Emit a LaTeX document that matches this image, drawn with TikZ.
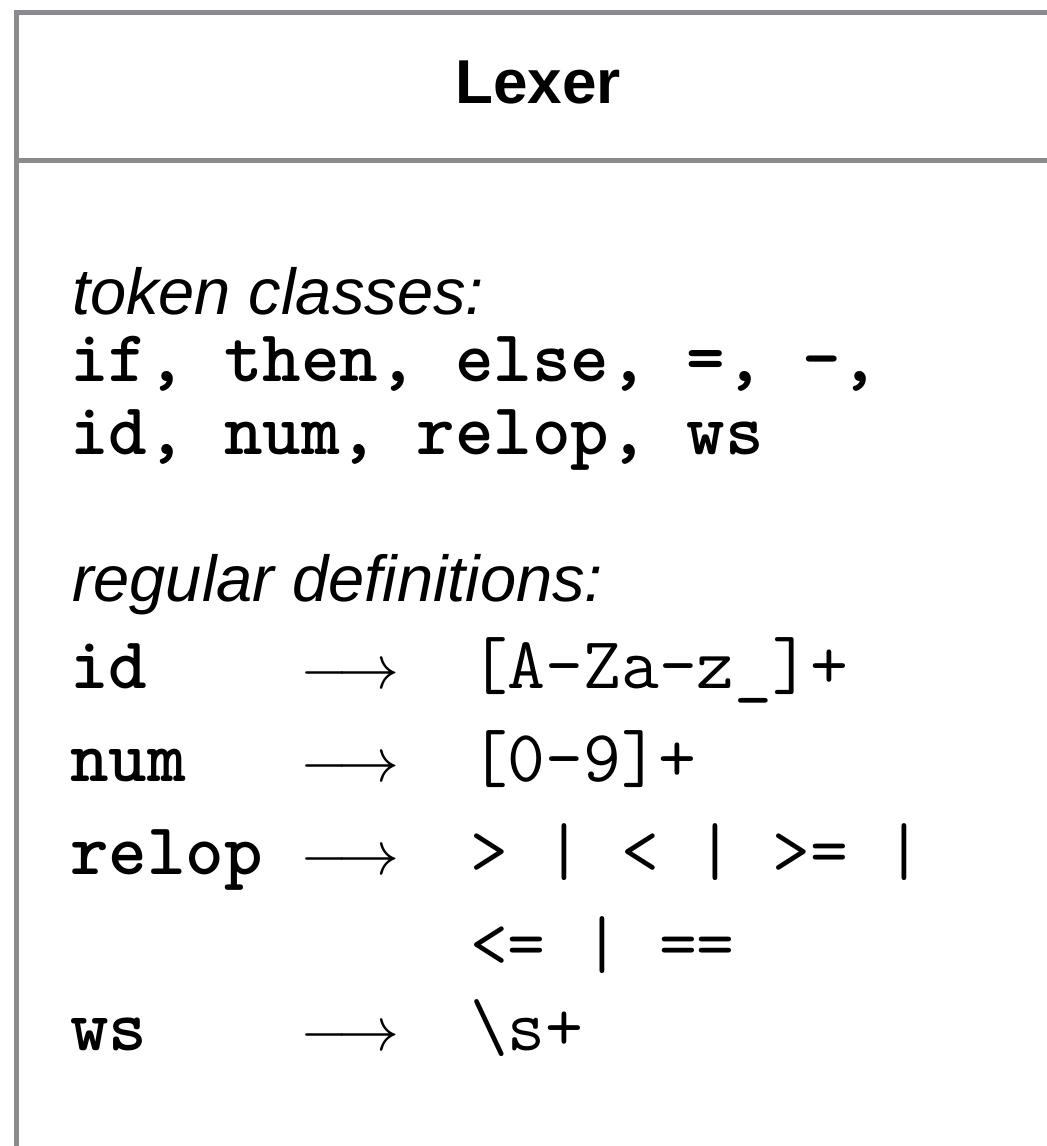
\RequirePackage{fix-cm}
\documentclass[tikz,border=0pt]{standalone}
\usepackage{fontspec}
\setmainfont{Liberation Sans}
\usetikzlibrary{positioning}
\definecolor{framegray}{HTML}{898B8F}
\tikzset{every node/.style={inner sep=0, outer sep=0, anchor=base west},
  headtext/.style={font=\fontsize{31}{31}\selectfont\bfseries, anchor=base},
  caption/.style={font=\fontsize{32.5}{32.5}\selectfont\itshape},
  kw/.style={font=\fontsize{36.7}{36.7}\selectfont\ttfamily\bfseries},
  regex/.style={font=\fontsize{36.7}{36.7}\selectfont\ttfamily},
  arrowsym/.style={font=\fontsize{31}{31}\selectfont},
  frame/.style={framegray, line width=2.5pt}}

\begin{document}
\begin{tikzpicture}[x=0.5pt, y=-0.5pt]
    \useasboundingbox (0, 0) rectangle (1047, 1146);
    \clip (0, 0) rectangle (1047, 1146);
    \draw[frame] (1070, 12) -- (16.5, 12) -- (16.5, 1170);
    \draw[frame] (16.5, 160) -- (1070, 160);
    \node[headtext] (lexer) at (538, 103) {Lexer};
    \node[caption] (tokhead) at (72, 314) {token classes:};
    \node[kw] (toks1) at (70, 381) {if, then, else, =, -,};
    \node[kw] (toks2) at (70, 454) {id, num, relop, ws};
    \node[caption] (defhead) at (72, 601) {regular definitions:};
    \node[kw] (idname) at (70, 688) {id};
    \node[arrowsym] (idarrow) at (300, 688) {$\longrightarrow$};
    \node[regex] (idrx) at (470, 688) {[A-Za-z\_]+};
    \node[kw] (numname) at (70, 781) {num};
    \node[arrowsym] (numarrow) at (300, 781) {$\longrightarrow$};
    \node[regex] (numrx) at (470, 781) {[0-9]+};
    \node[kw] (relopname) at (70, 874) {relop};
    \node[arrowsym] (reloparrow) at (300, 874) {$\longrightarrow$};
    \node[regex] (reloprx) at (470, 874) {> | < | >= |};
    \node[regex] (reloprxb) at (470, 967) {<= | ==};
    \node[kw] (wsname) at (70, 1050) {ws};
    \node[arrowsym] (wsarrow) at (300, 1050) {$\longrightarrow$};
    \node[regex] (wsrx) at (470, 1050) {\textbackslash s+};
\end{tikzpicture}
\end{document}
